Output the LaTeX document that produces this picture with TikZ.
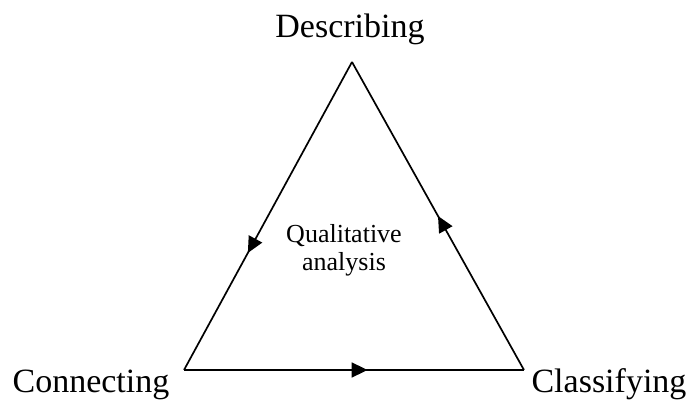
\documentclass[tikz,border=0pt]{standalone}
\usepackage{fontspec}
\setmainfont{Liberation Serif}
\usetikzlibrary{arrows.meta,decorations.markings}
\tikzset{
  vlabel/.style={font=\fontsize{34}{36}\selectfont, inner sep=0pt, anchor=base},
  midtext/.style={font=\fontsize{26}{28}\selectfont, align=center, inner sep=0pt},
  side/.style={line width=1.7pt, line join=miter, postaction={decorate},
    decoration={markings, mark=at position #1 with {\arrow{Triangle[length=16pt,width=15pt]}}}}
}
\begin{document}
\begin{tikzpicture}[x=1pt,y=-1pt]
\useasboundingbox (0,0) rectangle (689,403);
% corners of the triangle
\coordinate (top) at (352,62);
\coordinate (bl) at (184,370);
\coordinate (br) at (524,370);
\node[vlabel] (desc) at (350,38) {Describing};
\node[vlabel] (conn) at (91,393) {Connecting};
\node[vlabel] (class) at (609,393) {Classifying};
\node[midtext] (qa) at (344,250) {Qualitative\\analysis};
% cycle
\draw[side=0.62] (top) -- (bl);
\draw[side=0.54] (bl) -- (br);
\draw[side=0.50] (br) -- (top);
\end{tikzpicture}
\end{document}
